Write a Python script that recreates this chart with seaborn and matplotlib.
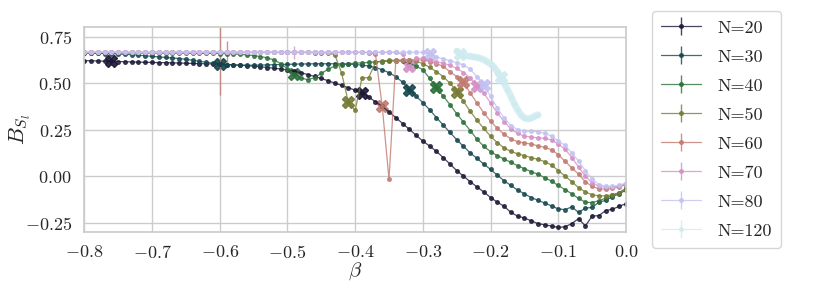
import numpy as np
import matplotlib
matplotlib.use("Agg")
from matplotlib import pyplot as plt
from matplotlib.ticker import FuncFormatter
import seaborn as sns

# coupling grid shared by N=20..80
beta = [-0.80, -0.79, -0.78, -0.77, -0.76, -0.75, -0.74, -0.73, -0.72, -0.71,
        -0.70, -0.69, -0.68, -0.67, -0.66, -0.65, -0.64, -0.63, -0.62, -0.61,
        -0.60, -0.59, -0.58, -0.57, -0.56, -0.55, -0.54, -0.53, -0.52, -0.51,
        -0.50, -0.49, -0.48, -0.47, -0.46, -0.45, -0.44, -0.43, -0.42, -0.41,
        -0.40, -0.39, -0.38, -0.37, -0.36, -0.35, -0.34, -0.33, -0.32, -0.31,
        -0.30, -0.29, -0.28, -0.27, -0.26, -0.25, -0.24, -0.23, -0.22, -0.21,
        -0.20, -0.19, -0.18, -0.17, -0.16, -0.15, -0.14, -0.13, -0.12, -0.11,
        -0.10, -0.09, -0.08, -0.07, -0.06, -0.05, -0.04, -0.03, -0.02, -0.01,
        0.00]

b20 = [0.621, 0.620, 0.619, 0.618, 0.617, 0.616, 0.615, 0.614, 0.613, 0.612,
       0.611, 0.610, 0.610, 0.609, 0.608, 0.607, 0.606, 0.605, 0.604, 0.603,
       0.602, 0.600, 0.598, 0.596, 0.594, 0.591, 0.588, 0.584, 0.580, 0.576,
       0.571, 0.564, 0.556, 0.546, 0.536, 0.525, 0.513, 0.500, 0.488, 0.475,
       0.462, 0.447, 0.425, 0.400, 0.375, 0.345, 0.315, 0.283, 0.252, 0.220,
       0.188, 0.162, 0.133, 0.100, 0.065, 0.030, 0.000, -0.030, -0.058, -0.085,
       -0.115, -0.140, -0.162, -0.195, -0.215, -0.225, -0.240, -0.255, -0.262, -0.268,
       -0.276, -0.272, -0.255, -0.228, -0.268, -0.215, -0.212, -0.185, -0.178, -0.162,
       -0.148]

b30 = [0.662, 0.661, 0.660, 0.659, 0.658, 0.657, 0.655, 0.653, 0.650, 0.647,
       0.644, 0.641, 0.638, 0.635, 0.632, 0.628, 0.623, 0.617, 0.612, 0.607,
       0.603, 0.600, 0.598, 0.597, 0.596, 0.596, 0.597, 0.598, 0.599, 0.600,
       0.601, 0.602, 0.603, 0.603, 0.604, 0.604, 0.604, 0.604, 0.603, 0.602,
       0.600, 0.597, 0.592, 0.584, 0.572, 0.556, 0.535, 0.505, 0.464, 0.430,
       0.395, 0.357, 0.315, 0.275, 0.235, 0.196, 0.160, 0.125, 0.095, 0.065,
       0.036, 0.005, -0.025, -0.050, -0.075, -0.095, -0.115, -0.130, -0.145, -0.160,
       -0.176, -0.180, -0.165, -0.195, -0.172, -0.168, -0.140, -0.130, -0.110, -0.095,
       -0.075]

b40 = [0.664, 0.664, 0.664, 0.663, 0.663, 0.663, 0.663, 0.662, 0.662, 0.662,
       0.662, 0.662, 0.661, 0.661, 0.661, 0.661, 0.660, 0.660, 0.660, 0.660,
       0.659, 0.658, 0.657, 0.655, 0.652, 0.648, 0.643, 0.636, 0.625, 0.605,
       0.578, 0.549, 0.528, 0.518, 0.530, 0.552, 0.575, 0.592, 0.600, 0.605,
       0.607, 0.609, 0.611, 0.614, 0.616, 0.618, 0.620, 0.618, 0.607, 0.592,
       0.572, 0.525, 0.477, 0.430, 0.385, 0.335, 0.290, 0.245, 0.198, 0.160,
       0.132, 0.110, 0.092, 0.074, 0.056, 0.040, 0.024, 0.010, -0.008, -0.027,
       -0.050, -0.072, -0.095, -0.120, -0.140, -0.142, -0.132, -0.118, -0.103, -0.088,
       -0.065]

b50 = [0.665, 0.665, 0.665, 0.665, 0.665, 0.665, 0.665, 0.665, 0.665, 0.665,
       0.665, 0.665, 0.665, 0.665, 0.665, 0.665, 0.665, 0.665, 0.665, 0.665,
       0.665, 0.665, 0.665, 0.665, 0.665, 0.665, 0.665, 0.665, 0.665, 0.665,
       0.665, 0.665, 0.665, 0.665, 0.664, 0.664, 0.663, 0.652, 0.554, 0.397,
       0.354, 0.527, 0.530, 0.611, 0.620, 0.622, 0.623, 0.623, 0.622, 0.618,
       0.605, 0.585, 0.562, 0.535, 0.500, 0.455, 0.402, 0.348, 0.300, 0.257,
       0.214, 0.180, 0.152, 0.133, 0.120, 0.110, 0.100, 0.090, 0.078, 0.060,
       0.030, 0.000, -0.030, -0.062, -0.085, -0.100, -0.106, -0.106, -0.100, -0.090,
       -0.072]

b60 = [0.665, 0.665, 0.665, 0.665, 0.665, 0.665, 0.665, 0.665, 0.665, 0.665,
       0.665, 0.665, 0.665, 0.665, 0.665, 0.665, 0.665, 0.665, 0.665, 0.665,
       0.665, 0.665, 0.665, 0.665, 0.665, 0.665, 0.665, 0.665, 0.665, 0.665,
       0.665, 0.665, 0.665, 0.665, 0.665, 0.665, 0.665, 0.665, 0.665, 0.665,
       0.665, 0.665, 0.664, 0.655, 0.375, -0.018, 0.621, 0.624, 0.626, 0.626,
       0.624, 0.616, 0.605, 0.590, 0.562, 0.535, 0.505, 0.447, 0.393, 0.340,
       0.295, 0.257, 0.225, 0.200, 0.185, 0.179, 0.172, 0.163, 0.155, 0.142,
       0.116, 0.080, 0.045, 0.010, -0.030, -0.055, -0.068, -0.070, -0.066, -0.058,
       -0.045]

b70 = [0.665, 0.665, 0.665, 0.665, 0.665, 0.665, 0.665, 0.665, 0.665, 0.665,
       0.665, 0.665, 0.665, 0.665, 0.665, 0.665, 0.665, 0.665, 0.665, 0.665,
       0.665, 0.665, 0.665, 0.665, 0.665, 0.665, 0.665, 0.665, 0.665, 0.665,
       0.665, 0.665, 0.665, 0.665, 0.665, 0.665, 0.665, 0.665, 0.665, 0.665,
       0.665, 0.665, 0.665, 0.665, 0.665, 0.665, 0.665, 0.655, 0.590, 0.634,
       0.633, 0.625, 0.614, 0.607, 0.595, 0.580, 0.557, 0.527, 0.486, 0.447,
       0.393, 0.340, 0.293, 0.254, 0.230, 0.215, 0.210, 0.206, 0.203, 0.195,
       0.172, 0.145, 0.100, 0.050, 0.000, -0.035, -0.055, -0.060, -0.058, -0.052,
       -0.040]

b80 = [0.666, 0.666, 0.666, 0.666, 0.666, 0.666, 0.666, 0.666, 0.666, 0.666,
       0.666, 0.666, 0.666, 0.666, 0.666, 0.666, 0.666, 0.666, 0.666, 0.666,
       0.666, 0.666, 0.666, 0.666, 0.666, 0.666, 0.666, 0.666, 0.666, 0.666,
       0.666, 0.666, 0.666, 0.666, 0.666, 0.666, 0.666, 0.666, 0.666, 0.666,
       0.666, 0.666, 0.666, 0.666, 0.666, 0.666, 0.666, 0.666, 0.666, 0.666,
       0.665, 0.655, 0.640, 0.630, 0.621, 0.610, 0.598, 0.575, 0.535, 0.490,
       0.429, 0.366, 0.313, 0.272, 0.250, 0.242, 0.241, 0.238, 0.230, 0.215,
       0.190, 0.165, 0.125, 0.080, 0.030, -0.015, -0.045, -0.055, -0.055, -0.050,
       -0.035]

# N=120 was run on a finer, shorter grid
beta120 = [-0.250, -0.245, -0.240, -0.235, -0.230, -0.225, -0.220, -0.215, -0.210,
           -0.205, -0.200, -0.195, -0.190, -0.185, -0.180, -0.175, -0.170, -0.165,
           -0.160, -0.155, -0.150, -0.145, -0.140, -0.135, -0.130]
b120 = [0.672, 0.657, 0.650, 0.647, 0.644, 0.641, 0.638, 0.633, 0.626,
        0.616, 0.603, 0.585, 0.562, 0.532, 0.500, 0.465, 0.428, 0.390,
        0.355, 0.328, 0.313, 0.308, 0.312, 0.322, 0.330]

sizes = [20, 30, 40, 50, 60, 70, 80, 120]
series = [b20, b30, b40, b50, b60, b70, b80, b120]
grids = [beta, beta, beta, beta, beta, beta, beta, beta120]

# the two marked couplings per size (big X)
marks = [[-0.76, -0.39], [-0.60, -0.32], [-0.49, -0.28], [-0.41, -0.25],
         [-0.36, -0.24], [-0.32, -0.22], [-0.29, -0.21], [-0.245, -0.185]]

# the few visible error bars: (size, beta, error)
err_size = [20, 60, 60, 70]
err_beta = [-0.76, -0.60, -0.59, -0.49]
err_val = [0.02, 0.227, 0.062, 0.036]

sns.set_theme(style="whitegrid")
plt.rcParams["font.family"] = ["cmr10", "DejaVu Sans"]
plt.rcParams["mathtext.fontset"] = "cm"
plt.rcParams["axes.unicode_minus"] = False

colors = sns.color_palette("cubehelix", len(sizes))

fig, ax = plt.subplots(figsize=(8.3, 2.97), dpi=100)
fig.subplots_adjust(left=0.1016, right=0.7542, bottom=0.219, top=0.908)

handles = []
for n, x, y, col, mk in zip(sizes, grids, series, colors, marks):
    x = np.array(x)
    y = np.array(y)
    yerr = np.zeros_like(y)
    for s, b, e in zip(err_size, err_beta, err_val):
        if s == n:
            yerr[np.isclose(x, b)] = e
    h = ax.errorbar(x, y, yerr=yerr, color=col, marker="o", ms=2.6, lw=0.9,
                    elinewidth=1, alpha=0.8, label=f"N={n}")
    handles.append(h)
    if n == 120:
        # dense runs for the largest lattice pile up into a thick band
        ax.plot(x, y, color=col, lw=5, alpha=0.8, solid_capstyle="round")
    idx = [int(np.argmin(np.abs(x - m))) for m in mk]
    ax.plot(x[idx], y[idx], ls="none", marker="X", ms=8, color=col, alpha=0.9)

ax.set_xlim(-0.8, 0.0)
ax.set_ylim(-0.3, 0.8)
ax.set_xticks([-0.8, -0.7, -0.6, -0.5, -0.4, -0.3, -0.2, -0.1, 0.0])
ax.set_yticks([-0.25, 0.0, 0.25, 0.5, 0.75])
ax.xaxis.set_major_formatter(FuncFormatter(lambda v, p: r"$%.1f$" % v))
ax.yaxis.set_major_formatter(FuncFormatter(lambda v, p: r"$%.2f$" % v))
ax.tick_params(labelsize=13, pad=3)
ax.set_xlabel(r"$\beta$", fontsize=15, labelpad=-1)
ax.set_ylabel(r"$B_{S_l}$", fontsize=16)
ax.yaxis.set_label_coords(-0.095, 0.5)

fig.legend(handles=handles, loc="upper left",
           bbox_to_anchor=(652 / 830, 1 - 11 / 297), borderaxespad=0,
           fontsize=13, handlelength=2.2, handletextpad=0.9,
           labelspacing=0.74, borderpad=0.5, frameon=True)

fig.savefig("out.png", dpi=100)
